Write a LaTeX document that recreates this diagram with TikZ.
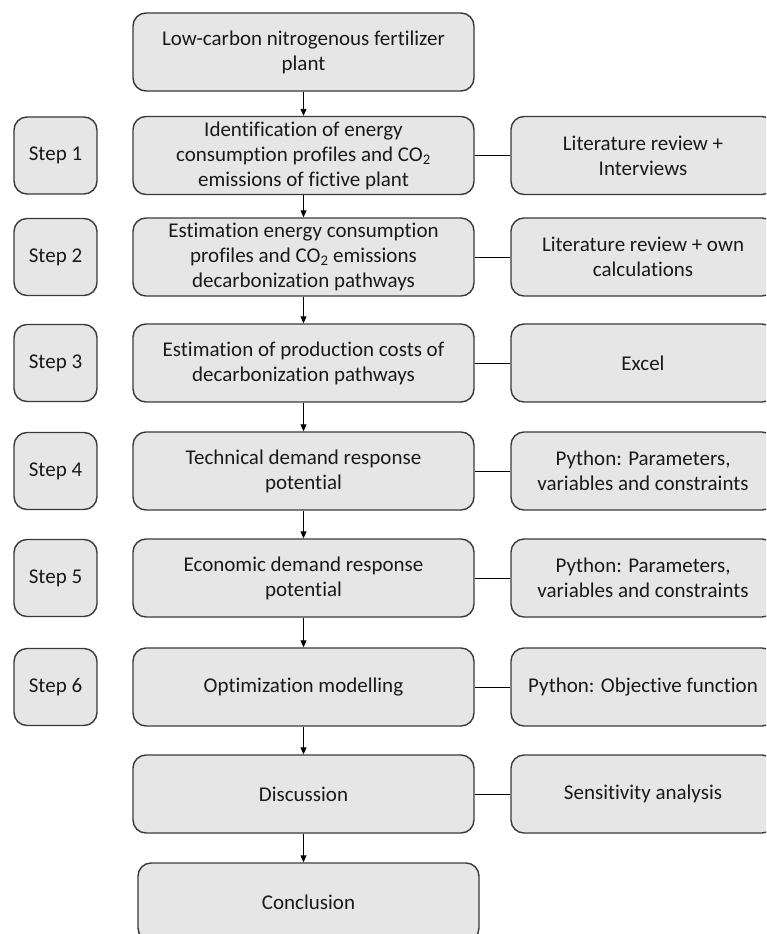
\documentclass[tikz,border=0pt]{standalone}
\usepackage{fontspec}
\setmainfont{Carlito}[Ligatures=NoCommon]
\usetikzlibrary{arrows.meta}
\definecolor{boxfill}{HTML}{E7E6E6}
\definecolor{boxline}{HTML}{3A3A3A}
\definecolor{txt}{HTML}{1A1A1A}
\begin{document}
\begin{tikzpicture}[x=1pt,y=-1pt,
 box/.style={draw=boxline, fill=boxfill, line width=1.4pt, rounded corners=13pt, inner sep=0pt, align=center, text=txt, font=\fontsize{21}{25}\selectfont},
 mainbox/.style={box, minimum width=341pt, minimum height=78pt},
 stepbox/.style={box, minimum width=83pt, minimum height=77pt},
 toolbox/.style={box, minimum width=264pt, minimum height=78pt},
 flow/.style={-{Triangle[length=7pt,width=6pt]}, line width=0.9pt, black},
 link/.style={line width=0.9pt, black}]
\clip (0,0) rectangle (766,934);
\fill[white] (0,0) rectangle (766,934);

% main column
\node[mainbox] (m0) at (303.5,52) {Low-carbon nitrogenous fertilizer\\plant};
\node[mainbox] (m1) at (303.5,155.5) {Identification of energy\\consumption profiles and CO\textsubscript{2}\\emissions of fictive plant};
\node[mainbox] (m2) at (303.5,257) {Estimation energy consumption\\profiles and CO\textsubscript{2} emissions\\decarbonization pathways};
\node[mainbox] (m3) at (303.5,363) {Estimation of production costs of\\decarbonization pathways};
\node[mainbox] (m4) at (303.5,471) {Technical demand response\\potential};
\node[mainbox] (m5) at (303.5,578) {Economic demand response\\potential};
\node[mainbox] (m6) at (303.5,687) {Optimization modelling};
\node[mainbox] (m7) at (303.5,794) {Discussion};
\node[mainbox] (m8) at (308.5,902) {Conclusion};

% steps
\node[stepbox] (s1) at (55.5,155.5) {Step 1};
\node[stepbox] (s2) at (55.5,257) {Step 2};
\node[stepbox] (s3) at (55.5,363) {Step 3};
\node[stepbox] (s4) at (55.5,471) {Step 4};
\node[stepbox] (s5) at (55.5,578) {Step 5};
\node[stepbox] (s6) at (55.5,687) {Step 6};

% tools
\node[toolbox] (t1) at (643,155.5) {Literature review +\\Interviews};
\node[toolbox] (t2) at (643,257) {Literature review + own\\calculations};
\node[toolbox] (t3) at (643,363) {Excel};
\node[toolbox] (t4) at (643,471) {Python: Parameters,\\variables and constraints};
\node[toolbox] (t5) at (643,578) {Python: Parameters,\\variables and constraints};
\node[toolbox] (t6) at (643,687) {Python: Objective function};
\node[toolbox] (t7) at (643,794) {Sensitivity analysis};

% flow arrows
\foreach \a/\b in {m0/m1,m1/m2,m2/m3,m3/m4,m4/m5,m5/m6,m6/m7}
  \draw[flow] (\a.south) -- (\b.north);
\draw[flow] (m7.south) -- (m7.south |- m8.north);

% links
\foreach \i in {1,...,7}
  \draw[link] (m\i.east) -- (t\i.west);
\end{tikzpicture}
\end{document}
